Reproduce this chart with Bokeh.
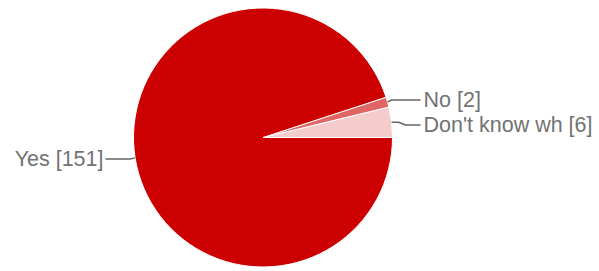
import math
import numpy as np
from bokeh.plotting import figure
from bokeh.models import Range1d
from bokeh.core.properties import value
from bokeh.embed import file_html
from bokeh.resources import INLINE

# Data
categories = ["Don't know wh", "No", "Yes"]
counts = [6, 2, 151]
colors = ["#f4cccc", "#e06666", "#cc0000"]

W, H = 599, 271

p = figure(width=W, height=H, output_backend="svg", toolbar_location=None,
           x_range=Range1d(0, W), y_range=Range1d(0, H), min_border=0)
p.axis.visible = False
p.grid.visible = False
p.outline_line_color = None
p.background_fill_color = "white"
p.border_fill_color = "white"

cx, cy, r = 262.5, H - 137, 129.5

total = sum(counts)
fr = np.array(counts) / total
ends = np.cumsum(fr) * 2 * math.pi
starts = np.concatenate([[0], ends[:-1]])

p.wedge(x=[cx] * 3, y=[cy] * 3, radius=r, start_angle=list(starts), end_angle=list(ends),
        fill_color=colors, line_color="white", line_width=1)

# labels and leader lines
label_y = {"Yes": H - 158.5, "No": H - 99.5, "Don't know wh": H - 124.5}
grey = "#666666"
tx, ty, tt, ta = [], [], [], []
for cat, c, s, e in zip(categories, counts, starts, ends):
    mid = (s + e) / 2
    ex, ey = cx + r * math.cos(mid), cy + r * math.sin(mid)
    ly = label_y[cat]
    if math.cos(mid) < 0:
        xs = [ex, ex - 5, 105]
        ys = [ey, ly, ly]
        tx.append(103); ta.append("right")
    else:
        if cat == "No":
            xs = [ex, ex + 4, 420]
            ys = [ey, ly, ly]
        else:
            xs = [ex, ex + 7, ex + 14, 420]
            ys = [ey, ey, ly, ly]
        tx.append(423); ta.append("left")
    p.line(xs, ys, line_color=grey, line_width=1.5)
    ty.append(ly)
    tt.append(f"{cat} [{c}]")

for x, y, t, a in zip(tx, ty, tt, ta):
    p.text(x=[x], y=[y], text=[t], text_align=a, text_baseline="middle",
           text_font=value("Liberation Sans"), text_font_size="21.5px", text_color="#727272")

open("out.html", "w").write(file_html(p, INLINE))
